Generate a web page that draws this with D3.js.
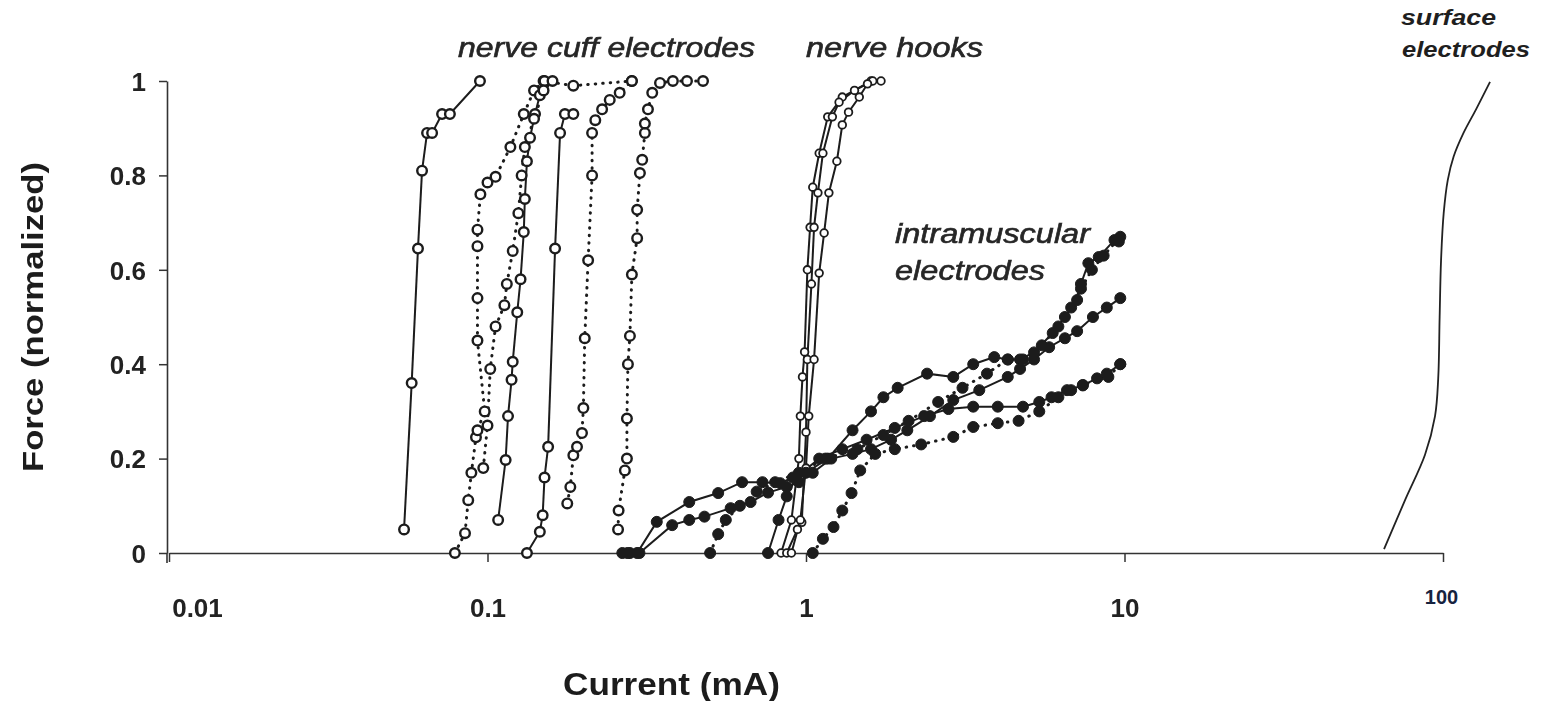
<!DOCTYPE html>
<html>
<head>
<meta charset="utf-8">
<script src="https://cdn.jsdelivr.net/npm/d3@7"></script>
<style>
  html, body { margin: 0; padding: 0; background: #fff; }
  svg { display: block; }
  text { font-family: "Liberation Sans", Arial, sans-serif; }
</style>
</head>
<body>
<svg id="chart" width="1541" height="701"></svg>
<script>
// ---- Data: stimulation current (mA) vs normalized force ----
const currentTicks = [0.01, 0.1, 1, 10, 100];
const currentTickLabels = ["0.01", "0.1", "1", "10", "100"];
const forceTicks = [0, 0.2, 0.4, 0.6, 0.8, 1];
const forceTickLabels = ["0", "0.2", "0.4", "0.6", "0.8", "1"];

// nerve cuff electrodes
const cuffA = [[0.0547,0.05],[0.0578,0.36],[0.0605,0.645],[0.0623,0.81],[0.0646,0.89],[0.067,0.89],[0.072,0.93],[0.0762,0.93],[0.0947,1.0]];
const cuffB = [[0.079,0],[0.085,0.042],[0.087,0.112],[0.089,0.17],[0.092,0.245],[0.093,0.26],[0.098,0.30],[0.093,0.45],[0.093,0.54],[0.093,0.65],[0.093,0.685],[0.095,0.76],[0.1,0.785],[0.106,0.797],[0.118,0.86],[0.13,0.93],[0.14,0.98],[0.15,1.0],[0.186,0.99],[0.284,1.0]];
const cuffC = [[0.108,0.07],[0.114,0.197],[0.116,0.29],[0.119,0.367],[0.12,0.405],[0.124,0.51],[0.127,0.58],[0.13,0.68],[0.131,0.75],[0.133,0.83],[0.136,0.88],[0.141,0.93],[0.146,0.97],[0.151,1.0]];
const cuffD = [[0.097,0.18],[0.1,0.27],[0.102,0.39],[0.106,0.48],[0.113,0.525],[0.115,0.57],[0.12,0.64],[0.125,0.72],[0.128,0.8],[0.131,0.86],[0.14,0.92],[0.15,0.98],[0.16,1.0]];
const cuffE = [[0.133,0],[0.146,0.045],[0.149,0.08],[0.151,0.16],[0.155,0.225],[0.163,0.645],[0.169,0.89],[0.175,0.93],[0.186,0.93]];
const cuffF = [[0.178,0.105],[0.182,0.14],[0.186,0.207],[0.191,0.225],[0.198,0.254],[0.2,0.307],[0.202,0.455],[0.207,0.62],[0.213,0.80],[0.213,0.89],[0.218,0.917],[0.229,0.94],[0.242,0.96],[0.26,0.975],[0.284,1.0]];
const cuffG = [[0.257,0.05],[0.258,0.09],[0.27,0.175],[0.274,0.2],[0.274,0.285],[0.276,0.40],[0.28,0.46],[0.284,0.59],[0.295,0.667],[0.295,0.727],[0.301,0.805],[0.306,0.833],[0.312,0.89],[0.312,0.91],[0.319,0.94],[0.329,0.975],[0.348,0.996],[0.382,1.0],[0.423,1.0],[0.475,1.0]];

// nerve hooks
const hookA = [[0.835,0],[0.9,0.07],[0.95,0.2],[0.96,0.29],[0.975,0.373],[0.99,0.426],[1.01,0.60],[1.03,0.69],[1.05,0.775],[1.1,0.847],[1.17,0.924],[1.3,0.966],[1.6,1.0]];
const hookB = [[0.87,0],[0.94,0.05],[0.97,0.065],[1.0,0.256],[1.01,0.41],[1.04,0.57],[1.06,0.69],[1.09,0.763],[1.13,0.847],[1.21,0.924],[1.27,0.955],[1.42,0.98],[1.62,1.0]];
const hookC = [[0.9,0],[0.96,0.07],[1.0,0.18],[1.02,0.29],[1.06,0.41],[1.1,0.593],[1.14,0.678],[1.18,0.763],[1.25,0.83],[1.3,0.907],[1.36,0.934],[1.47,0.966],[1.56,0.994],[1.72,1.0]];

// intramuscular electrodes
const intraA = [[0.265,0],[0.28,0],[0.295,0],[0.34,0.066],[0.43,0.108],[0.53,0.127],[0.63,0.15],[0.73,0.15],[0.83,0.148],[0.91,0.16],[1.0,0.17],[1.17,0.2],[1.4,0.26],[1.6,0.3],[1.75,0.33],[1.94,0.35],[2.4,0.38],[2.9,0.373],[3.35,0.40],[3.9,0.415],[4.3,0.41],[4.7,0.41],[5.2,0.425],[5.95,0.466],[6.5,0.50],[7.1,0.536],[7.3,0.57],[7.7,0.614],[8.3,0.627],[9.3,0.663],[9.6,0.66]];
const intraB = [[0.275,0],[0.3,0],[0.38,0.059],[0.43,0.07],[0.48,0.077],[0.58,0.095],[0.67,0.108],[0.76,0.128],[0.87,0.14],[0.95,0.15],[1.05,0.17],[1.2,0.2],[1.4,0.21],[1.6,0.22],[1.85,0.24],[2.08,0.26],[2.45,0.29],[2.9,0.324],[3.5,0.345],[4.3,0.373],[4.7,0.39],[5.2,0.41],[5.8,0.436],[6.5,0.455],[7.1,0.47],[7.96,0.50],[8.8,0.52],[9.7,0.54]];
const intraC = [[0.76,0],[0.82,0.07],[0.87,0.12],[0.93,0.16],[1.1,0.2],[1.3,0.22],[1.55,0.24],[1.9,0.265],[2.35,0.29],[2.8,0.305],[3.35,0.31],[4.0,0.31],[4.8,0.31],[5.4,0.32],[5.9,0.33],[6.6,0.345],[7.4,0.355],[8.2,0.37],[8.8,0.38],[9.7,0.40]];
const intraD = [[0.5,0],[0.53,0.04],[0.56,0.07],[0.62,0.1],[0.7,0.13],[0.8,0.15],[0.95,0.17],[1.15,0.2],[1.45,0.22],[1.75,0.25],[2.1,0.28],[2.6,0.32],[3.1,0.35],[3.7,0.38],[4.3,0.41],[4.8,0.41],[5.5,0.44],[6.2,0.48],[6.8,0.52],[7.3,0.56],[7.9,0.6],[8.6,0.63],[9.7,0.67]];
const intraE = [[1.05,0],[1.13,0.03],[1.22,0.055],[1.3,0.09],[1.39,0.127],[1.48,0.175],[1.65,0.21],[1.9,0.22],[2.3,0.23],[2.9,0.246],[3.35,0.267],[4.0,0.275],[4.65,0.28],[5.4,0.30],[6.2,0.33],[6.8,0.345],[7.4,0.356],[8.9,0.373],[9.7,0.40]];

// surface electrodes (smooth recruitment curve, no markers)
const surface = [[65.3,0.008],[76,0.112],[87.8,0.208],[94.4,0.29],[96.6,0.37],[97.6,0.5],[98.6,0.62],[100.5,0.72],[103.5,0.79],[108,0.84],[116,0.89],[127,0.94],[140.5,0.998]];

// ---- Series table ----
const series = [
  { data: cuffA, dashed: false, marker: "open" },
  { data: cuffB, dashed: true,  marker: "open" },
  { data: cuffC, dashed: false, marker: "open" },
  { data: cuffD, dashed: true,  marker: "open" },
  { data: cuffE, dashed: false, marker: "open" },
  { data: cuffF, dashed: true,  marker: "open" },
  { data: cuffG, dashed: true,  marker: "open" },
  { data: hookA, dashed: false, marker: "small" },
  { data: hookB, dashed: false, marker: "small" },
  { data: hookC, dashed: false, marker: "small" },
  { data: intraA, dashed: false, marker: "filled" },
  { data: intraB, dashed: false, marker: "filled" },
  { data: intraC, dashed: false, marker: "filled" },
  { data: intraD, dashed: true,  marker: "filled" },
  { data: intraE, dashed: true,  marker: "filled" }
];

// ---- Scales ----
const svg = d3.select("#chart");
const x = d3.scaleLog().domain([0.01, 100]).range([169, 1443]);
const y = d3.scaleLinear().domain([0, 1]).range([553, 81]);

const defs = svg.append("defs");
defs.append("filter").attr("id", "soft")
  .append("feGaussianBlur").attr("stdDeviation", 0.55);

const ink = "#1b1b1b";

// ---- Axes ----
const xAxis = svg.append("g")
  .attr("transform", `translate(0,${y(0)})`)
  .call(d3.axisBottom(x).tickValues(currentTicks).tickSize(9).tickSizeOuter(0).tickFormat((d, i) => currentTickLabels[i]));
xAxis.select(".domain").attr("stroke", "#333").attr("stroke-width", 1.6);
xAxis.selectAll(".tick line").attr("stroke", "#333").attr("stroke-width", 1.5);
xAxis.selectAll(".tick text")
  .attr("y", 0).attr("dy", null)
  .attr("transform", "translate(0,64)")
  .attr("fill", "#222")
  .attr("filter", "url(#soft)")
  .style("font-size", "26px").style("font-weight", "bold")
  .attr("dx", (d, i) => i === 0 ? 28 : 0);
xAxis.selectAll(".tick text").filter(d => d === 100)
  .attr("transform", "translate(-2,51)")
  .attr("filter", null)
  .attr("fill", "#17233f")
  .style("font-size", "20px");

const yAxis = svg.append("g")
  .attr("transform", `translate(${x(0.01) - 2},0)`)
  .call(d3.axisLeft(y).tickValues(forceTicks).tickSize(8).tickSizeOuter(0).tickFormat((d, i) => forceTickLabels[i]));
yAxis.select(".domain").attr("stroke", "#333").attr("stroke-width", 1.6);
yAxis.selectAll(".tick line").attr("stroke", "#333").attr("stroke-width", 1.5);
yAxis.selectAll(".tick text")
  .attr("x", -21).attr("dy", "0.36em")
  .attr("fill", "#222")
  .attr("filter", "url(#soft)")
  .style("font-size", "26px").style("font-weight", "bold");
// short extension of the vertical axis below the baseline
svg.append("line")
  .attr("x1", x(0.01) - 2).attr("x2", x(0.01) - 2)
  .attr("y1", y(0)).attr("y2", y(0) + 10)
  .attr("stroke", "#333").attr("stroke-width", 1.6);
svg.selectAll(".domain").attr("fill", "none");

// axis titles
svg.append("text")
  .attr("x", 563).attr("y", 695)
  .attr("textLength", 217).attr("lengthAdjust", "spacingAndGlyphs")
  .attr("filter", "url(#soft)")
  .style("font-size", "31px").style("font-weight", "bold").attr("fill", "#1e1e1e")
  .text("Current (mA)");
svg.append("text")
  .attr("transform", "translate(43,472) rotate(-90)")
  .attr("textLength", 310).attr("lengthAdjust", "spacingAndGlyphs")
  .attr("filter", "url(#soft)")
  .style("font-size", "30px").style("font-weight", "bold").attr("fill", "#1e1e1e")
  .text("Force (normalized)");

// ---- Curves ----
const plot = svg.append("g").attr("filter", "url(#soft)");
const line = d3.line().x(d => x(d[0])).y(d => y(d[1]));

series.forEach(s => {
  plot.append("path")
    .datum(s.data)
    .attr("d", line)
    .attr("fill", "none")
    .attr("stroke", ink)
    .attr("stroke-width", s.dashed ? 3 : 2)
    .attr("stroke-linecap", "round")
    .attr("stroke-dasharray", s.dashed ? "0.5,7" : null);
});

series.forEach(s => {
  const g = plot.append("g");
  g.selectAll("circle")
    .data(s.data)
    .join("circle")
    .attr("cx", d => x(d[0]))
    .attr("cy", d => y(d[1]))
    .attr("r", s.marker === "filled" ? 5.5 : s.marker === "small" ? 3.8 : 4.8)
    .attr("fill", s.marker === "filled" ? ink : "#fff")
    .attr("stroke", ink)
    .attr("stroke-width", s.marker === "filled" ? 1 : s.marker === "small" ? 1.8 : 2.4);
});

// surface electrode curve
svg.append("path")
  .datum(surface)
  .attr("d", d3.line().x(d => x(d[0])).y(d => y(d[1])).curve(d3.curveCatmullRom.alpha(0.5)))
  .attr("fill", "none")
  .attr("stroke", "#222")
  .attr("stroke-width", 1.8);

// ---- Group annotations ----
const notes = svg.append("g").attr("filter", "url(#soft)")
  .style("font-style", "italic").attr("fill", "#262626")
  .attr("stroke", "#262626").attr("stroke-width", 0.6);
notes.append("text").attr("x", 458).attr("y", 57)
  .attr("textLength", 297).attr("lengthAdjust", "spacingAndGlyphs")
  .style("font-size", "27px").text("nerve cuff electrodes");
notes.append("text").attr("x", 806).attr("y", 57)
  .attr("textLength", 177).attr("lengthAdjust", "spacingAndGlyphs")
  .style("font-size", "27px").text("nerve hooks");
notes.append("text").attr("x", 895).attr("y", 243)
  .attr("textLength", 195).attr("lengthAdjust", "spacingAndGlyphs")
  .style("font-size", "27px").text("intramuscular");
notes.append("text").attr("x", 895).attr("y", 280)
  .attr("textLength", 150).attr("lengthAdjust", "spacingAndGlyphs")
  .style("font-size", "27px").text("electrodes");

const surf = svg.append("g")
  .style("font-style", "italic").style("font-weight", "bold").attr("fill", "#1f1f1f");
surf.append("text").attr("x", 1401).attr("y", 25)
  .attr("textLength", 95).attr("lengthAdjust", "spacingAndGlyphs")
  .style("font-size", "22px").text("surface");
surf.append("text").attr("x", 1402).attr("y", 57)
  .attr("textLength", 128).attr("lengthAdjust", "spacingAndGlyphs")
  .style("font-size", "22px").text("electrodes");
</script>
</body>
</html>
